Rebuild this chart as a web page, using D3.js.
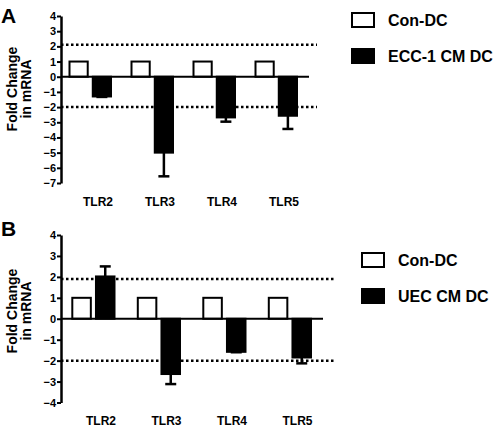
<!DOCTYPE html>
<html>
<head>
<meta charset="utf-8">
<script src="https://cdn.jsdelivr.net/npm/d3@7"></script>
<style>
  html, body { margin: 0; padding: 0; background: #fff; }
  svg text { font-family: "Liberation Sans", Arial, sans-serif; font-weight: bold; fill: #000; }
</style>
</head>
<body>
<svg id="chart" width="494" height="428"></svg>
<script>
// ---- data ----
const categories = ["TLR2", "TLR3", "TLR4", "TLR5"];

// Panel A
const seriesA = ["Con-DC", "ECC-1 CM DC"];
const conA = [1, 1, 1, 1];
const treatA = [-1.3, -5.0, -2.68, -2.57];
const errA = [-1.33, -6.56, -2.96, -3.44];
const ticksA = [4, 3, 2, 1, 0, -1, -2, -3, -4, -5, -6, -7];
const thresholdsA = [2.1, -2];

// Panel B
const seriesB = ["Con-DC", "UEC CM DC"];
const conB = [1, 1, 1, 1];
const treatB = [2.02, -2.64, -1.58, -1.85];
const errB = [2.5, -3.12, -1.6, -2.13];
const ticksB = [4, 3, 2, 1, 0, -1, -2, -3, -4];
const thresholdsB = [1.9, -2];

const svg = d3.select("#chart");

function panel(cfg) {
  const g = svg.append("g");
  const y = d3.scaleLinear().domain(cfg.domain).range(cfg.yRange);
  const x = d3.scaleBand().domain(categories).range(cfg.xRange).padding(0);
  const xs = d3.scaleBand().domain([0, 1]).range(cfg.inner).paddingInner(0.217).paddingOuter(0);

  // panel letter
  g.append("text").attr("x", 1).attr("y", cfg.letterY).attr("font-size", 21).text(cfg.letter);

  // y title
  const t = g.append("text")
    .attr("transform", `translate(17,${cfg.titleY}) rotate(-90)`)
    .attr("text-anchor", "middle").attr("font-size", 14);
  t.append("tspan").attr("x", 0).attr("dy", 0).text("Fold Change");
  t.append("tspan").attr("x", 0).attr("dy", 14).text("in mRNA");

  // threshold dotted lines
  cfg.thresholds.forEach(v => {
    g.append("line")
      .attr("x1", cfg.xRange[0]).attr("x2", cfg.dotEnd)
      .attr("y1", y(v)).attr("y2", y(v))
      .attr("stroke", "#000").attr("stroke-width", 2.5)
      .attr("stroke-dasharray", "2.5,2.5");
  });

  const data = categories.map((c, i) => ({ c, con: cfg.con[i], tr: cfg.treat[i], err: cfg.err[i] }));
  // error bars (treated)
  data.forEach(d => {
    const cx = x(d.c) + xs(1) + xs.bandwidth() / 2;
    g.append("line").attr("x1", cx).attr("x2", cx)
      .attr("y1", y(d.tr)).attr("y2", y(d.err))
      .attr("stroke", "#000").attr("stroke-width", 2.5);
    g.append("line").attr("x1", cx - 5.5).attr("x2", cx + 5.5)
      .attr("y1", y(d.err)).attr("y2", y(d.err))
      .attr("stroke", "#000").attr("stroke-width", 2.5);
  });
  g.selectAll(".con").data(data).join("rect")
    .attr("x", d => x(d.c) + xs(0))
    .attr("width", xs.bandwidth())
    .attr("y", d => y(Math.max(0, d.con)))
    .attr("height", d => Math.abs(y(d.con) - y(0)))
    .attr("fill", "#fff").attr("stroke", "#000").attr("stroke-width", 2);
  g.selectAll(".tr").data(data).join("rect")
    .attr("x", d => x(d.c) + xs(1))
    .attr("width", xs.bandwidth())
    .attr("y", d => y(Math.max(0, d.tr)))
    .attr("height", d => Math.abs(y(d.tr) - y(0)))
    .attr("fill", "#000").attr("stroke", "#000").attr("stroke-width", 2);

  // zero line
  g.append("line").attr("x1", cfg.xRange[0]).attr("x2", cfg.xRange[1])
    .attr("y1", y(0)).attr("y2", y(0)).attr("stroke", "#000").attr("stroke-width", 2);

  // y axis
  const ax = g.append("g").attr("transform", `translate(${cfg.xRange[0]},0)`)
    .call(d3.axisLeft(y).tickValues(cfg.ticks).tickSize(4).tickPadding(1).tickSizeOuter(0).tickFormat(d3.format("d")));
  ax.select(".domain").attr("stroke-width", 2.5);
  ax.selectAll(".tick line").attr("stroke-width", 2);
  ax.selectAll("text").attr("font-size", 11).attr("font-family", '"Liberation Sans", Arial, sans-serif').attr("font-weight", "bold");

  // x labels
  g.selectAll(".xl").data(categories).join("text")
    .attr("x", d => x(d) + cfg.labelOff)
    .attr("y", cfg.labelY)
    .attr("text-anchor", "middle").attr("dominant-baseline", "central")
    .attr("font-size", 12).text(d => d);

  // legend
  cfg.series.forEach((s, i) => {
    const ly = cfg.legY + i * cfg.legGap;
    g.append("rect").attr("x", cfg.legX).attr("y", ly - 7).attr("width", 22).attr("height", 14)
      .attr("fill", i === 0 ? "#fff" : "#000").attr("stroke", "#000").attr("stroke-width", 2);
    g.append("text").attr("x", cfg.legX + 36).attr("y", ly).attr("dominant-baseline", "central")
      .attr("font-size", 16).text(s);
  });
}

panel({
  letter: "A", letterY: 23, titleY: 89,
  domain: [-7, 4], yRange: [183, 16], xRange: [61, 309], inner: [8.5, 50], dotEnd: 317,
  ticks: ticksA, thresholds: thresholdsA,
  con: conA, treat: treatA, err: errA,
  labelOff: 37, labelY: 201.5,
  series: seriesA, legX: 352, legY: 20, legGap: 36
});

panel({
  letter: "B", letterY: 236, titleY: 311,
  domain: [-4, 4], yRange: [402.5, 235], xRange: [61, 323], inner: [11.3, 53.5], dotEnd: 336,
  ticks: ticksB, thresholds: thresholdsB,
  con: conB, treat: treatB, err: errB,
  labelOff: 40, labelY: 420.5,
  series: seriesB, legX: 362, legY: 260, legGap: 36
});
</script>
</body>
</html>
